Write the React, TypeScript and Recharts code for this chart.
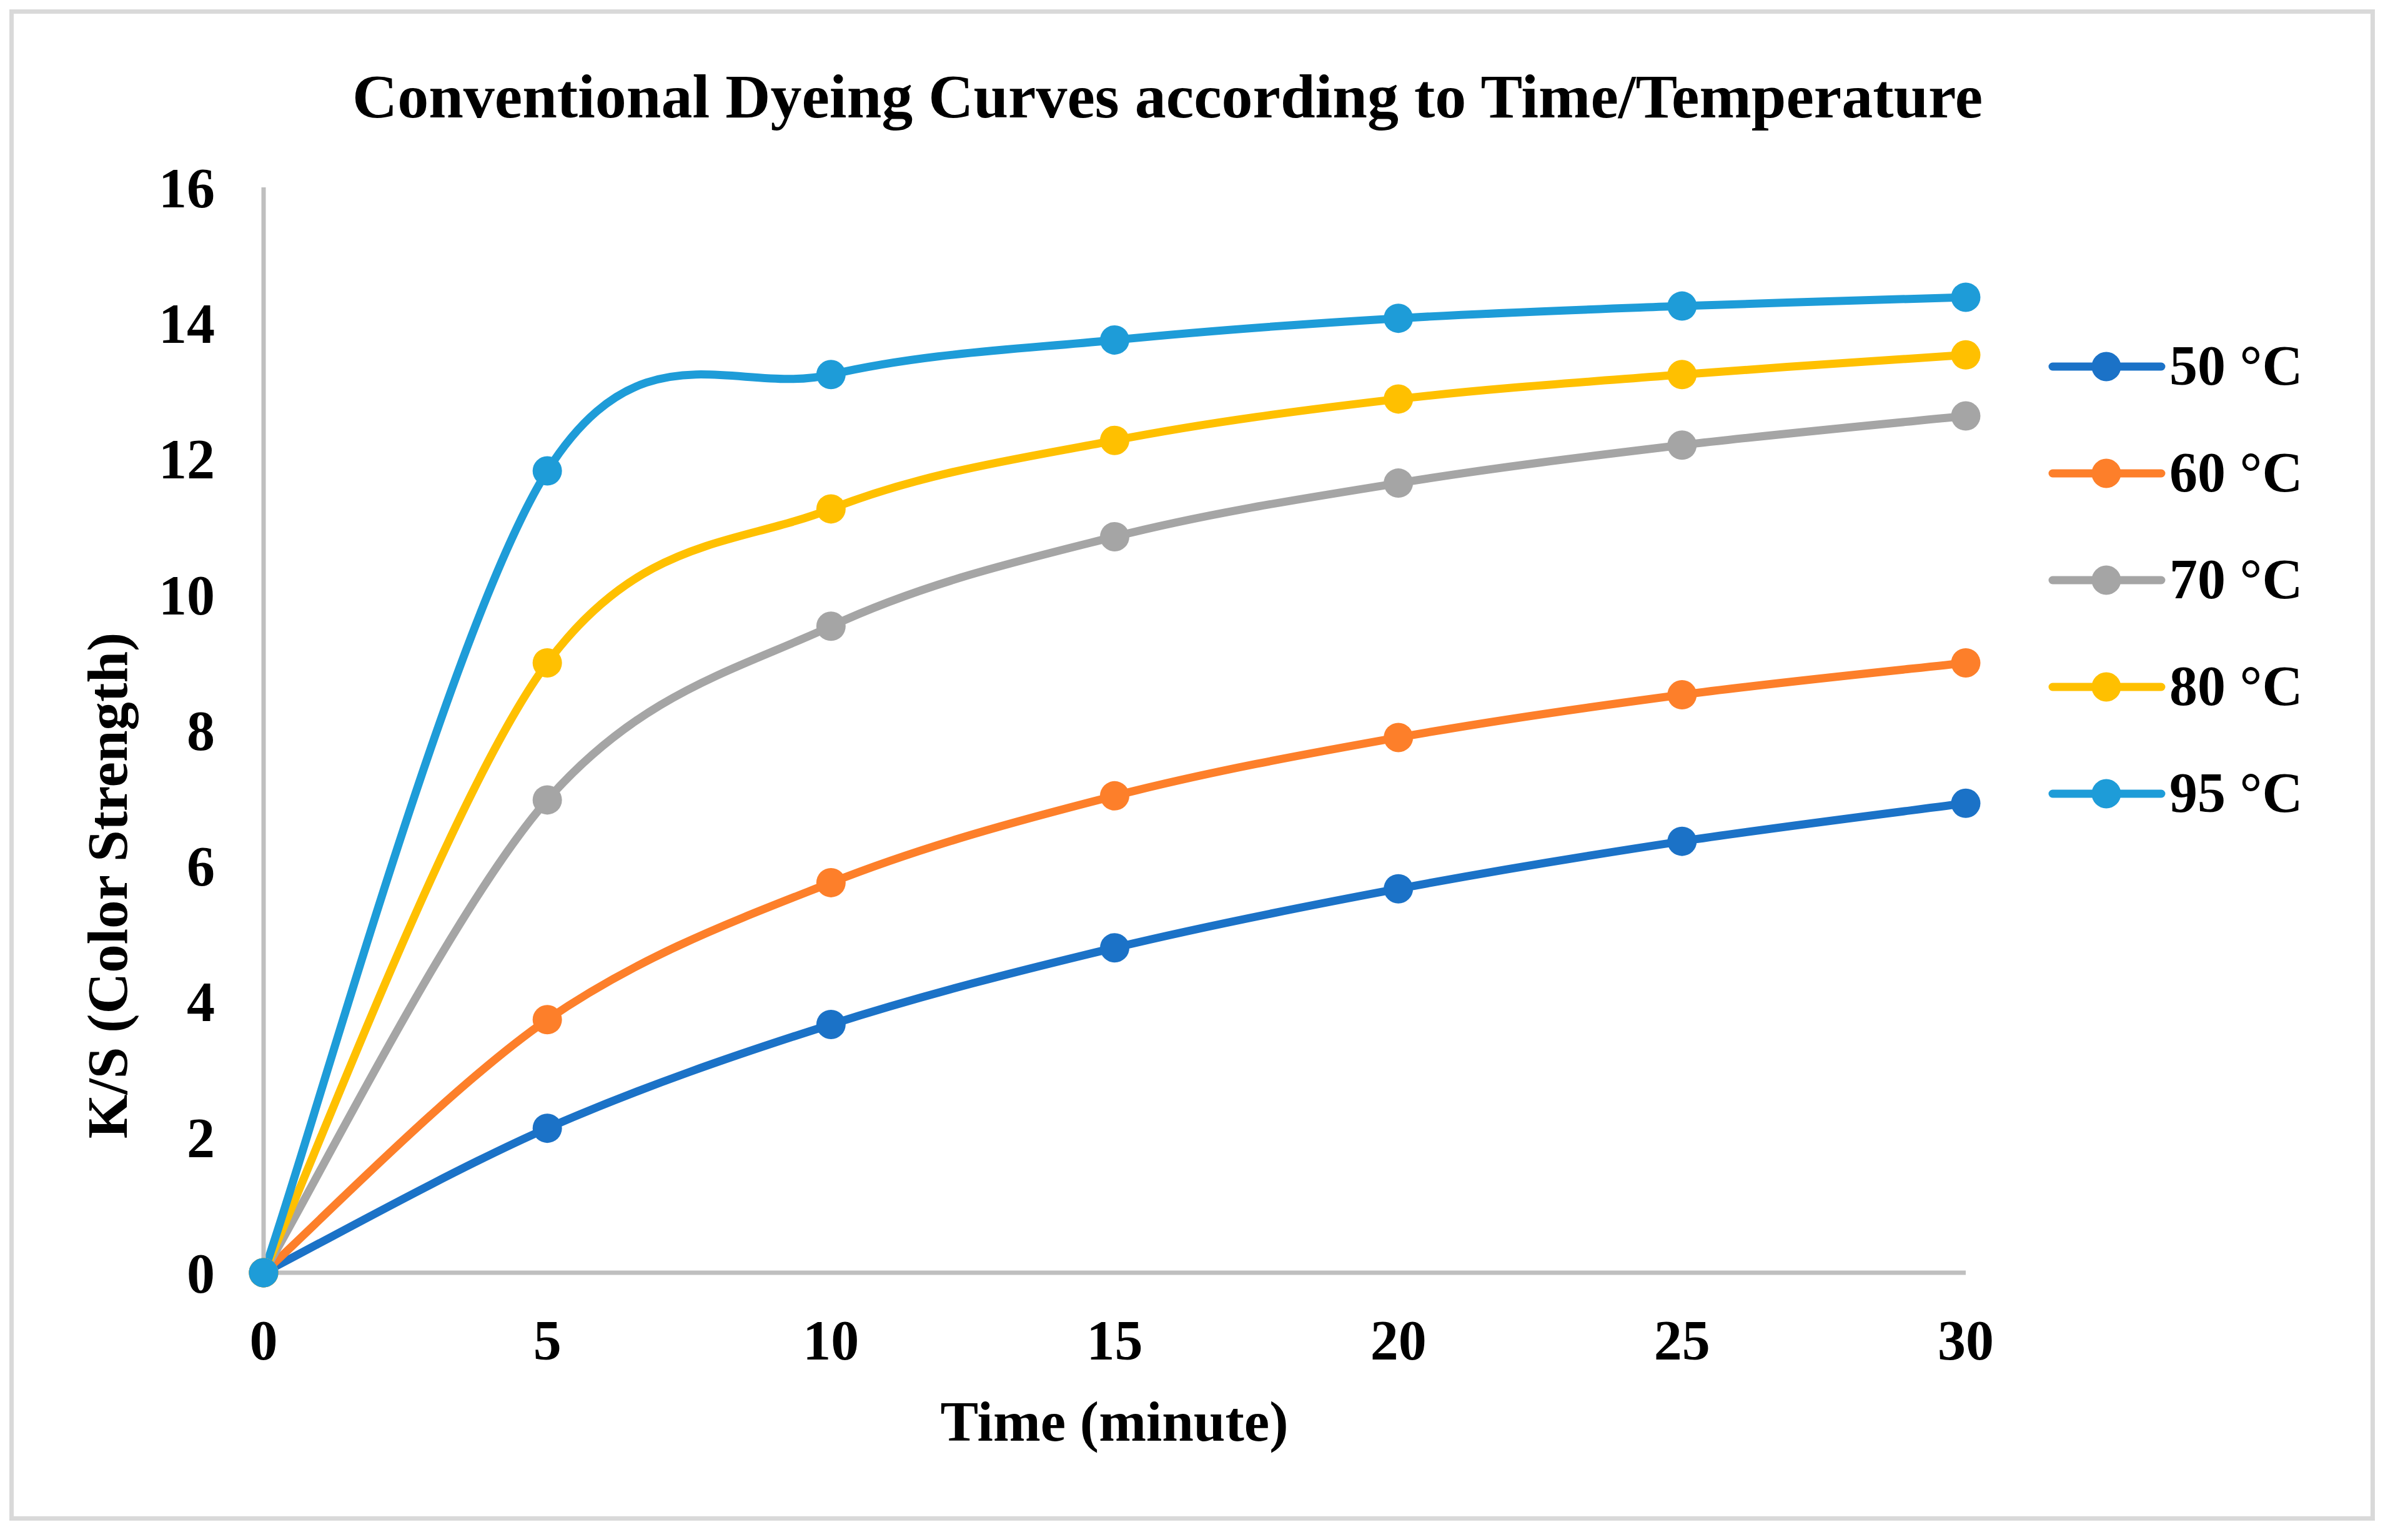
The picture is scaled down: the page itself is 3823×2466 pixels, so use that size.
import { Legend, Line, LineChart, XAxis, YAxis } from "recharts";

const times = [0, 5, 10, 15, 20, 25, 30];
const ks50 = [0, 2.13, 3.66, 4.79, 5.66, 6.36, 6.92];
const ks60 = [0, 3.73, 5.75, 7.03, 7.89, 8.52, 8.99];
const ks70 = [0, 6.97, 9.53, 10.85, 11.64, 12.2, 12.63];
const ks80 = [0, 8.99, 11.26, 12.27, 12.88, 13.24, 13.53];
const ks95 = [0, 11.82, 13.24, 13.75, 14.07, 14.25, 14.38];
const yTicks = [0, 2, 4, 6, 8, 10, 12, 14, 16];

const series = [
  { key: "t50", name: "50 °C", color: "#1b72c7", values: ks50 },
  { key: "t60", name: "60 °C", color: "#fd7f2a", values: ks60 },
  { key: "t70", name: "70 °C", color: "#a5a5a5", values: ks70 },
  { key: "t80", name: "80 °C", color: "#ffc000", values: ks80 },
  { key: "t95", name: "95 °C", color: "#1e9cd8", values: ks95 },
];

const data = times.map((t, i) => {
  const row: Record<string, number> = { t };
  series.forEach((s) => {
    row[s.key] = s.values[i];
  });
  return row;
});

const FONT = "'Liberation Serif', 'Times New Roman', serif";
const W = 3823;
const H = 2466;

// Excel-like smoothed line (uniform Catmull-Rom as cubic bezier)
function excelCurve(context: any) {
  let pts: number[][] = [];
  return {
    areaStart() {},
    areaEnd() {},
    lineStart() {
      pts = [];
    },
    point(x: number, y: number) {
      pts.push([+x, +y]);
    },
    lineEnd() {
      const n = pts.length;
      if (!n) return;
      context.moveTo(pts[0][0], pts[0][1]);
      for (let i = 0; i < n - 1; i++) {
        const p0 = pts[Math.max(0, i - 1)];
        const p1 = pts[i];
        const p2 = pts[i + 1];
        const p3 = pts[Math.min(n - 1, i + 2)];
        context.bezierCurveTo(
          p1[0] + (p2[0] - p0[0]) / 6,
          p1[1] + (p2[1] - p0[1]) / 6,
          p2[0] - (p3[0] - p1[0]) / 6,
          p2[1] - (p3[1] - p1[1]) / 6,
          p2[0],
          p2[1],
        );
      }
    },
  };
}

const tickStyle = { fill: "#000", fontSize: 90, fontWeight: 700, fontFamily: FONT };

const renderLegend = () => (
  <svg width={500} height={900}>
    {series.map((s, i) => {
      const cy = 107 + i * 171;
      return (
        <g key={s.key}>
          <line x1={26} x2={200} y1={cy} y2={cy} stroke={s.color} strokeWidth={13} strokeLinecap="round" />
          <circle cx={112} cy={cy} r={23.5} fill={s.color} />
          <text x={213} y={cy + 29} fontSize={90} fontWeight={700} fontFamily={FONT} fill="#000">
            {s.name}
          </text>
        </g>
      );
    })}
  </svg>
);

export default function App() {
  return (
    <div style={{ position: "absolute", left: 0, top: 0, width: W, height: H, background: "#fff" }}>
      <LineChart
        width={W}
        height={H}
        data={data}
        margin={{ top: 300, right: 676, bottom: 328, left: 322 }}
      >
        <XAxis
          dataKey="t"
          type="number"
          domain={[0, 30]}
          ticks={times}
          height={100}
          tickLine={false}
          tickSize={0}
          tickMargin={75}
          axisLine={{ stroke: "#bfbfbf", strokeWidth: 7 }}
          tick={tickStyle}
          label={{
            content: () => (
              <text x={1784} y={2307} textAnchor="middle" fontSize={91} fontWeight={700} fontFamily={FONT} fill="#000">
                Time (minute)
              </text>
            ),
          }}
        />
        <YAxis
          type="number"
          domain={[0, 16]}
          ticks={yTicks}
          width={100}
          tickLine={false}
          tickSize={0}
          tickMargin={78}
          axisLine={{ stroke: "#bfbfbf", strokeWidth: 7 }}
          tick={tickStyle}
          label={{
            content: () => (
              <text
                x={203}
                y={1418}
                transform="rotate(-90 203 1418)"
                textAnchor="middle"
                fontSize={91}
                fontWeight={700}
                fontFamily={FONT}
                fill="#000"
              >
                K/S (Color Strength)
              </text>
            ),
          }}
        />
        <Legend
          layout="horizontal"
          verticalAlign="middle"
          align="center"
          content={renderLegend}
          wrapperStyle={{ position: "absolute", left: 3260, top: 480, width: 500, height: 900 }}
        />
        {series.map((s) => (
          <Line
            key={s.key}
            dataKey={s.key}
            name={s.name}
            type={excelCurve as any}
            stroke={s.color}
            strokeWidth={13}
            dot={{ r: 23.5, fill: s.color, stroke: s.color, strokeWidth: 0 }}
            activeDot={false}
            isAnimationActive={false}
          />
        ))}
      </LineChart>
      <svg
        width={W}
        height={H}
        style={{ position: "absolute", left: 0, top: 0, pointerEvents: "none" }}
      >
        <rect x={18.5} y={18.5} width={3780} height={2413} fill="none" stroke="#d9d9d9" strokeWidth={7} />
        <text x={1869} y={188} textAnchor="middle" fontSize={100} fontWeight={700} fontFamily={FONT} fill="#000">
          Conventional Dyeing Curves according to Time/Temperature
        </text>
      </svg>
    </div>
  );
}
